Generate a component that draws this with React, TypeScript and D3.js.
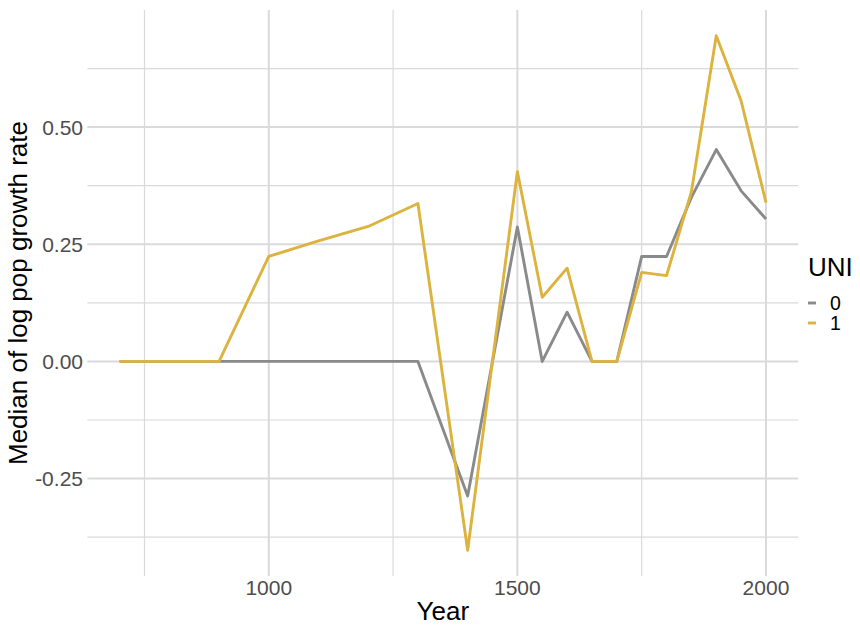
import React from "react";
import * as d3 from "d3";

const years = [700, 800, 900, 1000, 1100, 1200, 1300, 1400, 1500, 1550, 1600, 1650, 1700, 1750, 1800, 1850, 1900, 1950, 2000];
const uni0 = [0, 0, 0, 0, 0, 0, 0, -0.287, 0.287, 0, 0.105, 0, 0, 0.224, 0.224, 0.35, 0.452, 0.364, 0.304];
const uni1 = [0, 0, 0, 0.224, 0.257, 0.288, 0.337, -0.403, 0.405, 0.137, 0.199, 0, 0, 0.19, 0.183, 0.362, 0.695, 0.556, 0.339];
const seriesNames = ["0", "1"];
const seriesColors = ["#8a8a8a", "#dcb33f"];
const xTicks = [1000, 1500, 2000];
const xMinor = [750, 1250, 1750];
const yTicks = [-0.25, 0, 0.25, 0.5];
const yMinor = [-0.375, -0.125, 0.125, 0.375, 0.625];

export default function App() {
  const W = 860, H = 627;
  const left = 87.3, right = 798.3, top = 10, bottom = 576;
  const xExt = d3.extent(years) as [number, number];
  const allY = [...uni0, ...uni1];
  const yExt = d3.extent(allY) as [number, number];
  const xPad = (xExt[1] - xExt[0]) * 0.05;
  const yPad = (yExt[1] - yExt[0]) * 0.05;
  const x = d3.scaleLinear().domain([xExt[0] - xPad, xExt[1] + xPad]).range([left, right]);
  const y = d3.scaleLinear().domain([yExt[0] - yPad, yExt[1] + yPad]).range([bottom, top]);
  const line = d3.line<number>().x((_, i) => x(years[i])).y((d) => y(d));
  const series = [uni0, uni1];
  const font = "Liberation Sans, Arial, sans-serif";
  const grid = "#dadada";
  const fmt = (v: number) => d3.format(".2f")(v).replace("\u2212", "-");

  return (
    <svg width={W} height={H} style={{ position: "absolute", left: 0, top: 0, background: "#fff" }} fontFamily={font}>
      {yMinor.map((v) => (
        <line key={"ym" + v} x1={left} x2={right} y1={y(v)} y2={y(v)} stroke={grid} strokeWidth={1.2} />
      ))}
      {xMinor.map((v) => (
        <line key={"xm" + v} x1={x(v)} x2={x(v)} y1={top} y2={bottom} stroke={grid} strokeWidth={1.2} />
      ))}
      {yTicks.map((v) => (
        <line key={"yM" + v} x1={left} x2={right} y1={y(v)} y2={y(v)} stroke={grid} strokeWidth={2} />
      ))}
      {xTicks.map((v) => (
        <line key={"xM" + v} x1={x(v)} x2={x(v)} y1={top} y2={bottom} stroke={grid} strokeWidth={2} />
      ))}
      {series.map((s, i) => (
        <path key={"s" + i} d={line(s) || ""} fill="none" stroke={seriesColors[i]} strokeWidth={2.9} strokeLinejoin="round" />
      ))}
      {yTicks.map((v) => (
        <text key={"yl" + v} x={83} y={y(v)} dy="0.36em" textAnchor="end" fontSize={21} fill="#4d4d4d">
          {fmt(v)}
        </text>
      ))}
      {xTicks.map((v) => (
        <text key={"xl" + v} x={x(v)} y={587} dy="0.36em" textAnchor="middle" fontSize={21} fill="#4d4d4d">
          {v}
        </text>
      ))}
      <text x={(left + right) / 2} y={620} textAnchor="middle" fontSize={26} fill="#000">Year</text>
      <text transform={`translate(27,${(top + bottom) / 2}) rotate(-90)`} textAnchor="middle" fontSize={26} fill="#000">
        Median of log pop growth rate
      </text>
      <text x={808} y={276} fontSize={26} fill="#000">UNI</text>
      {seriesNames.map((n, i) => (
        <g key={"lg" + n}>
          <line x1={808} x2={816} y1={303 + i * 20} y2={303 + i * 20} stroke={seriesColors[i]} strokeWidth={2.9} />
          <text x={830} y={303 + i * 20} dy="0.35em" fontSize={19.5} fill="#000">{n}</text>
        </g>
      ))}
    </svg>
  );
}
